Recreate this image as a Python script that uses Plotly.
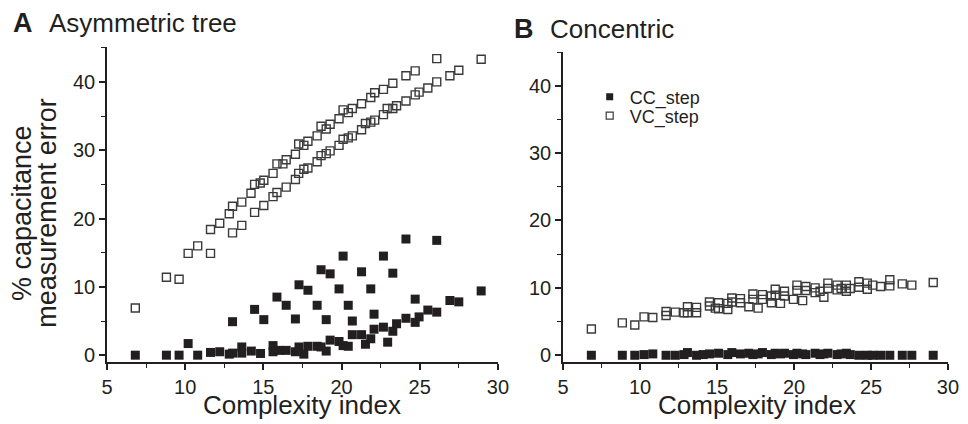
import plotly.graph_objects as go

# ---------------- Data ----------------
# Panel A: Asymmetric tree
a_vc_x = [6.81, 8.80, 9.61, 10.19, 10.80, 11.62, 11.62, 12.21, 12.82, 13.03, 13.03, 13.62, 13.62,
          14.21, 14.44, 14.44, 14.80, 15.03, 15.03, 15.62, 15.62, 15.87, 15.87, 16.25, 16.46, 16.46,
          17.05, 17.05, 17.26, 17.26, 17.59, 17.59, 17.85, 17.85, 18.44, 18.44, 18.69, 18.69,
          19.02, 19.02, 19.27, 19.27, 19.84, 19.84, 20.10, 20.10, 20.43, 20.43, 20.69, 20.69,
          21.28, 21.28, 21.53, 21.87, 21.87, 22.12, 22.12, 22.68, 22.68, 22.92, 23.28, 23.28,
          23.52, 24.12, 24.12, 24.71, 24.71, 24.96, 25.52, 26.09, 26.09, 26.93, 27.50, 28.93]
a_vc_y = [6.9, 11.4, 11.1, 14.9, 16.0, 14.9, 18.4, 19.3, 20.7, 21.8, 17.9, 19.0, 22.4,
          23.7, 25.0, 20.9, 25.2, 25.6, 21.9, 26.6, 23.2, 28.0, 23.8, 28.0, 28.6, 24.6,
          29.4, 25.7, 30.9, 26.6, 30.7, 27.2, 31.3, 27.4, 32.1, 28.3, 33.5, 29.2,
          33.1, 29.5, 33.8, 29.9, 34.6, 30.7, 35.9, 31.6, 35.5, 31.8, 36.1, 32.1,
          36.8, 33.0, 33.9, 37.7, 34.1, 38.4, 34.4, 38.9, 35.2, 36.1, 39.8, 36.1,
          36.5, 40.9, 37.2, 41.6, 38.1, 38.5, 39.1, 43.4, 40.0, 40.9, 41.7, 43.3]

a_cc_x = [6.81, 8.80, 9.61, 10.19, 10.80, 11.62, 12.21, 12.82, 13.03, 13.03, 13.62, 13.62,
          14.23, 14.44, 14.82, 15.03, 15.62, 15.62, 15.87, 16.00, 16.46, 16.46, 17.05, 17.05,
          17.28, 17.28, 17.59, 17.85, 17.85, 18.44, 18.44, 18.69, 18.69, 19.02, 19.02, 19.27,
          19.27, 19.84, 19.84, 20.10, 20.10, 20.43, 20.43, 20.69, 20.69, 21.28, 21.28, 21.53,
          21.87, 21.87, 22.08, 22.08, 22.68, 22.68, 22.95, 23.28, 23.28, 23.52, 24.12, 24.12,
          24.71, 24.71, 24.96, 25.52, 26.09, 26.09, 26.93, 27.50, 28.93]
a_cc_y = [0.0, 0.0, 0.0, 1.7, 0.0, 0.4, 0.5, 0.15, 4.9, 0.3, 1.2, 0.3,
          0.6, 6.7, 0.25, 5.2, 1.4, 0.5, 8.5, 0.7, 7.3, 0.7, 5.3, 0.5,
          10.3, 1.2, 0.15, 9.5, 1.3, 7.3, 1.3, 12.5, 1.2, 5.2, 0.6, 11.9,
          2.2, 9.7, 2.0, 14.5, 1.4, 7.3, 1.3, 5.0, 3.0, 12.2, 3.0, 1.6,
          9.7, 2.4, 6.0, 3.8, 14.5, 4.1, 1.9, 12.0, 3.5, 4.6, 17.0, 5.4,
          8.2, 4.8, 5.6, 6.6, 16.8, 6.3, 8.0, 7.8, 9.4]

# Panel B: Concentric
b_vc_x = [6.84, 8.85, 9.66, 10.26, 10.83, 11.69, 11.69, 12.29, 12.86, 13.08, 13.08, 13.67, 13.67,
          14.51, 14.51, 14.89, 15.10, 15.10, 15.70, 15.70, 15.96, 15.96, 16.52, 16.52, 17.07,
          17.33, 17.33, 17.67, 17.95, 17.95, 18.53, 18.53, 18.78, 18.78, 19.12, 19.38, 19.38,
          19.96, 20.19, 20.19, 20.56, 20.77, 20.77, 21.37, 21.37, 21.69, 21.94, 22.20, 22.20,
          22.80, 22.80, 23.06, 23.40, 23.40, 23.65, 24.21, 24.21, 24.76, 24.76, 25.11, 25.62,
          26.22, 26.22, 27.03, 27.65, 29.04]
b_vc_y = [3.9, 4.8, 4.5, 5.7, 5.6, 6.5, 5.9, 6.4, 6.3, 7.2, 6.3, 7.1, 6.3,
          7.9, 7.3, 7.0, 7.8, 6.9, 7.7, 6.8, 8.5, 7.9, 8.4, 7.8, 7.2,
          9.1, 8.3, 7.0, 9.0, 8.3, 7.8, 8.8, 9.8, 8.9, 7.7, 9.5, 8.8,
          8.3, 10.4, 9.6, 8.1, 10.2, 9.6, 10.0, 9.3, 9.5, 8.6, 10.7, 9.9,
          10.4, 9.7, 9.9, 10.4, 9.5, 9.9, 10.9, 10.1, 10.7, 9.8, 10.4, 10.2,
          11.2, 10.3, 10.6, 10.4, 10.8]

b_cc_x = [6.84, 8.85, 9.66, 10.26, 10.83, 11.69, 12.29, 12.86, 13.08, 13.67, 14.10, 14.51,
          15.10, 15.70, 15.96, 16.52, 17.07, 17.33, 17.67, 17.95, 18.53, 18.78, 19.12, 19.38,
          19.96, 20.19, 20.56, 20.77, 21.37, 21.69, 21.94, 22.20, 22.80, 23.06, 23.40, 23.65,
          24.21, 24.76, 25.11, 25.62, 26.22, 27.03, 27.65, 29.04]
b_cc_y = [0.0, 0.0, 0.0, 0.1, 0.2, 0.0, 0.0, 0.1, 0.4, 0.0, 0.1, 0.2,
          0.3, 0.1, 0.4, 0.2, 0.3, 0.1, 0.2, 0.4, 0.1, 0.3, 0.2, 0.3,
          0.1, 0.3, 0.2, 0.1, 0.3, 0.1, 0.2, 0.3, 0.1, 0.2, 0.3, 0.1,
          0.0, 0.0, 0.0, 0.0, 0.0, 0.0, 0.0, 0.0]

x_tickvals = [5, 10, 15, 20, 25, 30]
y_tickvals = [0, 10, 20, 30, 40]

# ---------------- Style ----------------
OFF = 8                       # default page margin of the html body
W, H = 968 - OFF, 424 - OFF
PL, PR, PT, PB = 107, 959, 47, 362   # plot-area edges in page pixels
ML, MR, MT, MB = PL - OFF, W - (PR - OFF), PT - OFF, H - (PB - OFF)
PW, PH = W - ML - MR, H - MT - MB
INK = "#231f20"
FONT = "Liberation Sans, Arial, sans-serif"

def px2paper(px, py):
    return (px - OFF - ML) / PW, 1 - (py - OFF - MT) / PH

filled = dict(symbol="square", size=9, color=INK, line=dict(width=0))
opened = dict(symbol="square-open", size=8, color="#3a3a3a", line=dict(width=1.4))

fig = go.Figure()
fig.add_trace(go.Scatter(x=a_cc_x, y=a_cc_y, mode="markers", marker=filled,
                         xaxis="x", yaxis="y", showlegend=False))
fig.add_trace(go.Scatter(x=a_vc_x, y=a_vc_y, mode="markers", marker=opened,
                         xaxis="x", yaxis="y", showlegend=False))
fig.add_trace(go.Scatter(x=b_cc_x, y=b_cc_y, mode="markers", marker=filled,
                         xaxis="x2", yaxis="y2", showlegend=False))
fig.add_trace(go.Scatter(x=b_vc_x, y=b_vc_y, mode="markers", marker=opened,
                         xaxis="x2", yaxis="y2", showlegend=False))
# legend entries
fig.add_trace(go.Scatter(x=[None], y=[None], mode="markers", name="CC_step", legend="legend",
                         marker=dict(symbol="square", size=7, color=INK),
                         xaxis="x2", yaxis="y2"))
fig.add_trace(go.Scatter(x=[None], y=[None], mode="markers", name="VC_step", legend="legend2",
                         marker=dict(symbol="square-open", size=7, color="#3a3a3a",
                                     line=dict(width=1.2)),
                         xaxis="x2", yaxis="y2"))

xcommon = dict(range=[5, 30], tickvals=x_tickvals, ticks="outside", ticklen=6, tickwidth=1.5,
               tickcolor=INK, showline=True, linecolor=INK, linewidth=1.6, showgrid=False,
               zeroline=False, tickfont=dict(size=20, color=INK, family=FONT),
               minor=dict(dtick=2.5, tick0=5, ticks="outside", ticklen=4, tickwidth=1.3,
                          tickcolor=INK, showgrid=False))
ycommon = dict(tickvals=y_tickvals, ticks="outside", ticklen=6, tickwidth=1.5,
               tickcolor=INK, showline=True, linecolor=INK, linewidth=1.6, showgrid=False,
               zeroline=False, tickfont=dict(size=20, color=INK, family=FONT),
               minor=dict(dtick=5, tick0=0, ticks="outside", ticklen=4, tickwidth=1.3,
                          tickcolor=INK, showgrid=False))

xa_end = px2paper(503, 0)[0]
xb_start = px2paper(569, 0)[0]
yb_top = px2paper(0, 52)[1]

leg_common = dict(xanchor="left", yanchor="middle", bgcolor="rgba(0,0,0,0)",
                  font=dict(size=18, color=INK, family=FONT), itemsizing="trace")
fig.update_layout(
    width=W, height=H,
    margin=dict(l=ML, r=MR, t=MT, b=MB),
    paper_bgcolor="white", plot_bgcolor="white",
    font=dict(family=FONT, color=INK),
    xaxis=dict(domain=[0, xa_end], anchor="y", **xcommon),
    yaxis=dict(domain=[0, 1], anchor="x", range=[-1.0, 45.1], **ycommon),
    xaxis2=dict(domain=[xb_start, 1], anchor="y2", **xcommon),
    yaxis2=dict(domain=[0, yb_top], anchor="x2", range=[-1.0, 45.0], **ycommon),
    legend=dict(x=px2paper(596, 0)[0], y=px2paper(0, 97)[1], **leg_common),
    legend2=dict(x=px2paper(596, 0)[0], y=px2paper(0, 116)[1], **leg_common),
)

def ann(text, px, py, size, bold=False, angle=0, xanchor="center", yanchor="middle"):
    x, y = px2paper(px, py)
    fig.add_annotation(text=f"<b>{text}</b>" if bold else text, x=x, y=y, xref="paper",
                       yref="paper", showarrow=False, textangle=angle, xanchor=xanchor,
                       yanchor=yanchor, font=dict(size=size, color=INK, family=FONT))

ann("A", 10, 23, 27, bold=True, xanchor="left")
ann("Asymmetric tree", 46, 23, 26, xanchor="left")
ann("B", 517, 29, 27, bold=True, xanchor="left")
ann("Concentric", 554, 29, 26, xanchor="left")
ann("Complexity index", 305, 405, 26)
ann("Complexity index", 766, 405, 26)
ann("% capacitance", 21, 213, 27, angle=-90)
ann("measurement error", 46, 213, 27, angle=-90)

fig.write_html("out.html")
